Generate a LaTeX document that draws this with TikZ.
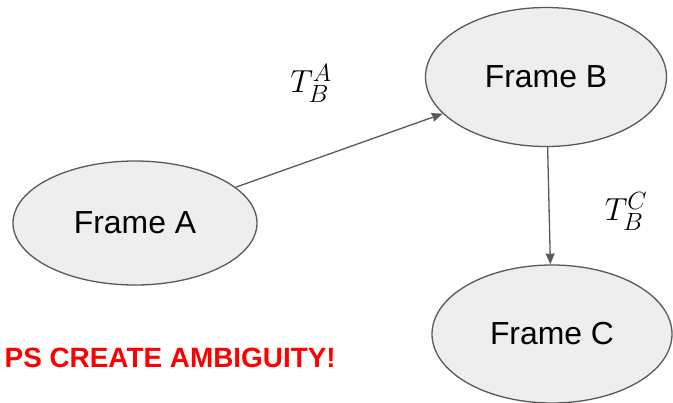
\RequirePackage{fix-cm}
\documentclass[tikz,border=0pt]{standalone}
\usepackage{fontspec}
\setmainfont{Liberation Sans}
\usepackage{amsmath}
\usepackage{tikz}
\usetikzlibrary{arrows.meta,shapes.geometric}
\definecolor{edge1}{HTML}{595959}
\definecolor{fill1}{HTML}{EEEEEE}
\definecolor{alert1}{HTML}{FF0000}
\DeclareMathSizes{32}{32}{25}{20}

\begin{document}
\begin{tikzpicture}[x=1bp,y=-1bp,
    frame/.style={ellipse,draw=edge1,fill=fill1,line width=1.3bp,inner sep=0pt,
                  font=\fontsize{32}{38}\selectfont},
    link/.style={draw=edge1,line width=1.3bp,-{Stealth[length=11bp,width=9bp,inset=1bp]}},
    tlabel/.style={font=\fontsize{32}{38}\selectfont}]
  \useasboundingbox (0,0) rectangle (673,402);
  % the three frames
  \node[frame,minimum width=244bp,minimum height=124bp] (frameA) at (135,223) {Frame A};
  \node[frame,minimum width=241bp,minimum height=139bp] (frameB) at (546,77) {Frame B};
  \node[frame,minimum width=240bp,minimum height=138bp] (frameC) at (552,334) {Frame C};
  % transforms
  \draw[link] (frameA) -- (frameB);
  \draw[link] (frameB) -- (frameC);
  \node[tlabel] (tAB) at (311,83) {$T_B^A$};
  \node[tlabel] (tCB) at (626,211) {$T_B^C$};
  % warning, runs off the left edge
  \node[anchor=east,text=alert1,inner sep=0pt,font=\fontsize{28}{33}\selectfont\bfseries]
       (warn) at (336,358) {PS CREATE AMBIGUITY!};
\end{tikzpicture}
\end{document}
